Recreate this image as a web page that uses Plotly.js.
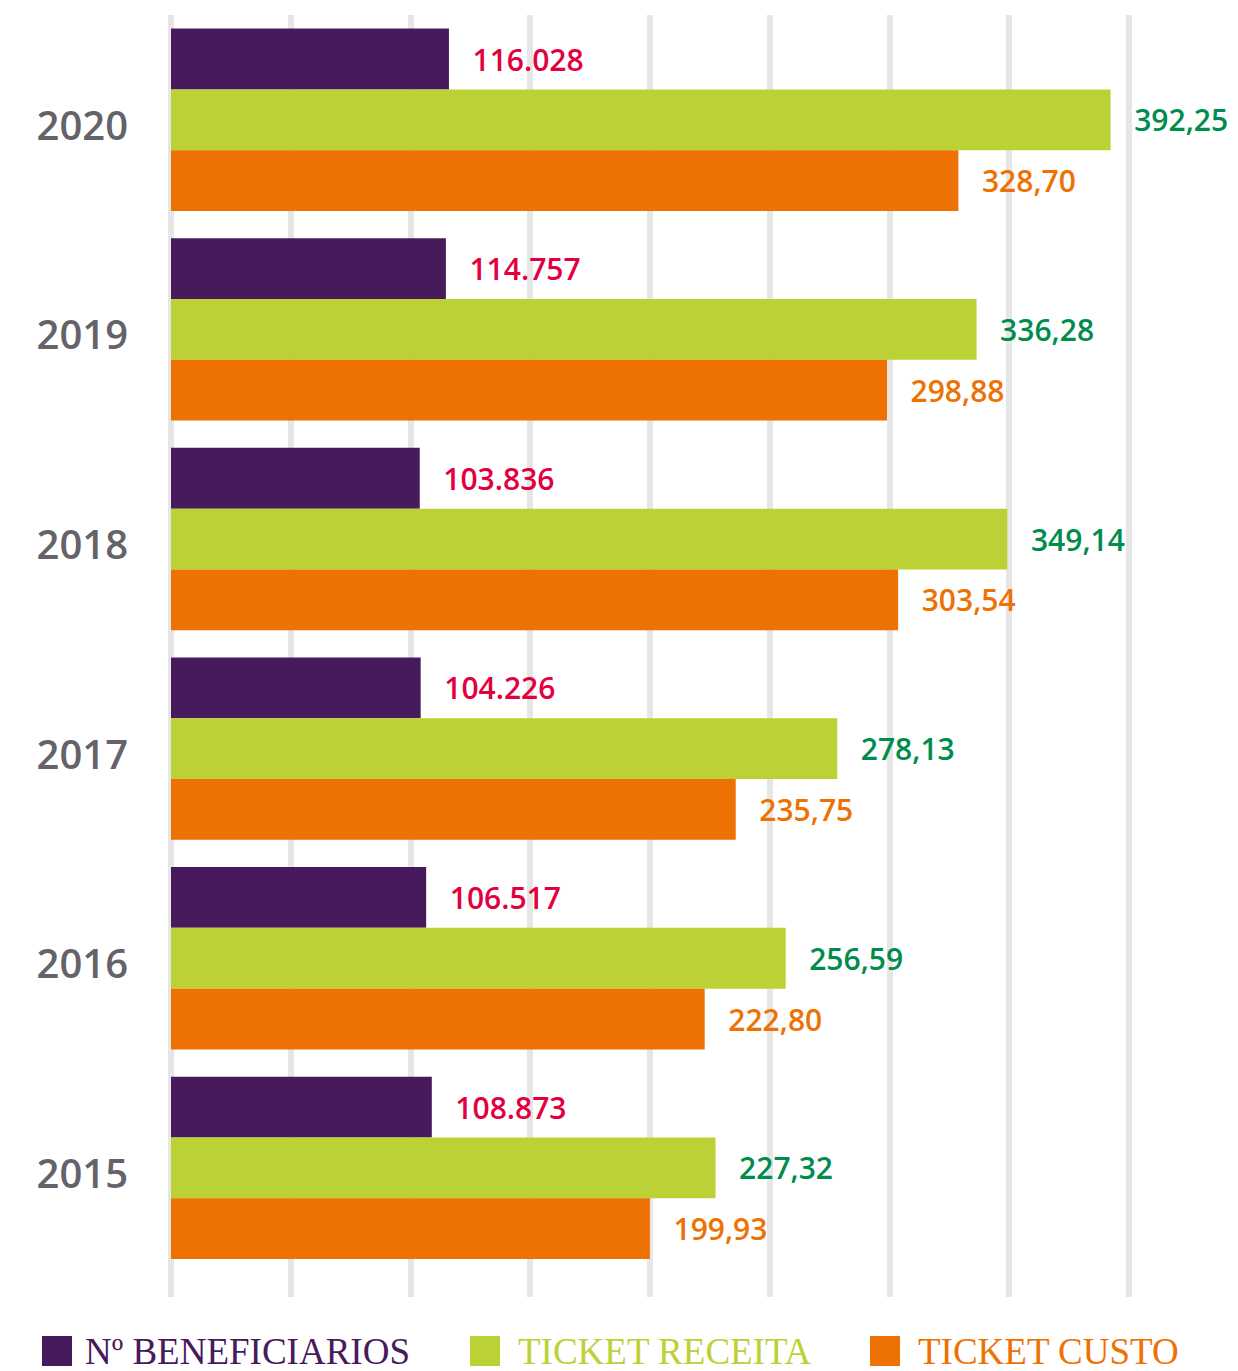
<!DOCTYPE html>
<html><head><meta charset="utf-8">
<script src="https://cdn.plot.ly/plotly-3.0.1.min.js"></script>
<style>body{margin:0;background:#fff}</style>
</head><body><div id="chart" style="width:1238px;height:1371px"></div>
<script>
// ---- data ----
const years = ['2020','2019','2018','2017','2016','2015'];
const beneficiarios = [116028,114757,103836,104226,106517,108873];
const ticketReceita = [392.25,336.28,349.14,278.13,256.59,227.32];
const ticketCusto = [328.70,298.88,303.54,235.75,222.80,199.93];
const seriesNames = ['Nº BENEFICIARIOS','TICKET RECEITA','TICKET CUSTO'];

// ---- styles ----
const barColors = ['#471a5c','#bcd136','#ed7203'];
const labelColors = ['#e4003f','#008c4c','#ed7203'];
const W = 1238, H = 1371;
const M = {l:171, r:13, t:15, b:74};
const plotW = W - M.l - M.r, plotH = H - M.t - M.b;
const pxX = px => (px - M.l) / plotW;
const pxY = py => (H - M.b - py) / plotH;
const pad = '\u00a0\u00a0\u2009';

const numFont = {family:'Open Sans, Noto Sans, sans-serif', size:30, weight:600};

const traces = [
  {
    type:'bar', orientation:'h', name:seriesNames[0], y:years,
    x: beneficiarios.map(v => v/1000), customdata: beneficiarios,
    texttemplate: pad + '%{customdata:,}',
    marker:{color:barColors[0]}, textfont:Object.assign({color:labelColors[0]}, numFont)
  },
  {
    type:'bar', orientation:'h', name:seriesNames[1], y:years, x:ticketReceita,
    texttemplate: pad + '%{x:.2f}',
    marker:{color:barColors[1]}, textfont:Object.assign({color:labelColors[1]}, numFont)
  },
  {
    type:'bar', orientation:'h', name:seriesNames[2], y:years, x:ticketCusto,
    texttemplate: pad + '%{x:.2f}',
    marker:{color:barColors[2]}, textfont:Object.assign({color:labelColors[2]}, numFont)
  }
].map(t => Object.assign(t, {textposition:'outside', cliponaxis:false, constraintext:'none', hoverinfo:'skip'}));

// custom legend (large squares + serif text)
const legendSquares = [42, 470, 870];
const legendText = [83, 516, 916];
const shapes = [], annotations = [];
seriesNames.forEach((n,i) => {
  shapes.push({type:'rect', xref:'paper', yref:'paper',
    x0:pxX(legendSquares[i]), x1:pxX(legendSquares[i]+30),
    y0:pxY(1366), y1:pxY(1336), fillcolor:barColors[i], line:{width:0}});
  annotations.push({xref:'paper', yref:'paper', x:pxX(legendText[i]), y:pxY(1351),
    xanchor:'left', yanchor:'middle', showarrow:false, text:n,
    font:{family:'Liberation Serif, DejaVu Serif, serif', size:37, color:barColors[i]}});
});

const layout = {
  width:W, height:H, margin:M, paper_bgcolor:'#fff', plot_bgcolor:'#fff',
  barmode:'group', bargap:0.13, bargroupgap:0, showlegend:false,
  separators:',.',
  xaxis:{range:[0,440], dtick:50, showgrid:true, gridcolor:'#e6e6e6', gridwidth:6,
    zeroline:true, zerolinecolor:'#e6e6e6', zerolinewidth:6,
    showticklabels:false, ticks:'', showline:false, fixedrange:true},
  yaxis:{type:'category', categoryorder:'array', categoryarray:years,
    range:[5.616,-0.5], showgrid:false, zeroline:false, ticks:'', showline:false,
    ticklabelstandoff:42, ticklabelshift:-6,
    tickfont:{family:'Open Sans, Noto Sans, sans-serif', size:40, weight:600, color:'#636369'}},
  shapes, annotations
};

Plotly.newPlot('chart', traces, layout, {displayModeBar:false, staticPlot:true});
</script></body></html>
